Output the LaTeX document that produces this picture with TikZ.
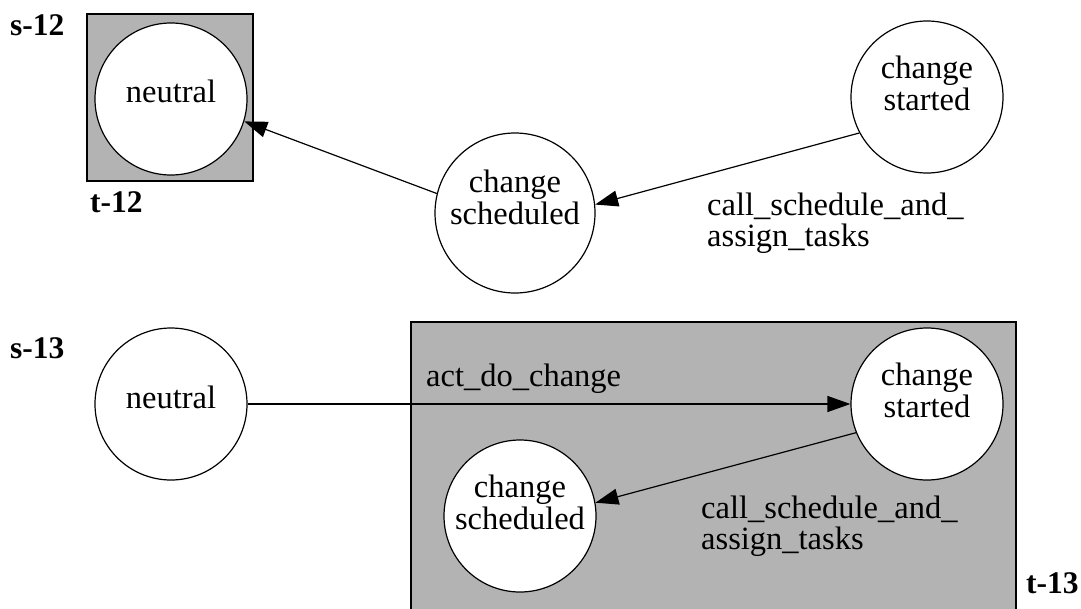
\documentclass[tikz,border=0pt]{standalone}
\usepackage{fontspec}
\setmainfont{Liberation Serif}
\usetikzlibrary{arrows.meta}
\definecolor{boxgray}{RGB}{179,179,179}
\tikzset{
  state/.style={circle, draw=black, fill=white, line width=1.2pt, inner sep=0pt},
  clusterbox/.style={draw=black, fill=boxgray, line width=1.2pt},
  txt/.style={inner sep=0pt, font=\fontsize{32.5}{30.5}\selectfont},
  tag/.style={inner sep=0pt, anchor=base west, font=\fontsize{31.5}{30}\selectfont\bfseries},
  edge/.style={line width=1.2pt, -{Triangle[length=23pt,width=16pt]}},
}
\newcommand{\twolines}[2]{\begin{tabular}[t]{@{}l@{}}#1\\#2\end{tabular}}
\newcommand{\twocenter}[2]{\begin{tabular}{@{}c@{}}#1\\#2\end{tabular}}
\begin{document}
\begin{tikzpicture}[x=1pt,y=-1pt]
\useasboundingbox (0,0) rectangle (1081,608);
% ---- s-12 ----
\draw[clusterbox] (87,14) rectangle (253,181);
\node[tag] (s12) at (10,35) {s-12};
\node[tag] (t12) at (90,212) {t-12};
\node[state, minimum size=152pt] (n12) at (171,99) {};
\node[txt, anchor=base] (n12t) at (171,102) {neutral};
\node[state, minimum size=160pt] (sc12) at (515,213) {};
\node[txt] (sc12t) at (515,202) {\twocenter{change}{scheduled}};
\node[state, minimum size=152pt] (st12) at (927,97) {};
\node[txt] (st12t) at (927,88) {\twocenter{change}{started}};
\draw[edge] (sc12.166) -- (n12.-17);
\draw[edge] (st12.208) -- (sc12.6);
\node[txt, anchor=base west] (l12) at (707,215) {\twolines{call\_schedule\_and\_}{assign\_tasks}};
% ---- s-13 ----
\draw[clusterbox] (411,322) rectangle (1016,612);
\node[tag] (s13) at (10,358) {s-13};
\node[tag] (t13) at (1026,593) {t-13};
\node[state, minimum size=152pt] (n13) at (171,404) {};
\node[txt, anchor=base] (n13t) at (171,408) {neutral};
\node[state, minimum size=152pt] (st13) at (927,404) {};
\node[txt] (st13t) at (927,395) {\twocenter{change}{started}};
\node[state, minimum size=152pt] (sc13) at (520,516) {};
\node[txt] (sc13t) at (520,507) {\twocenter{change}{scheduled}};
\draw[edge] (n13.east) -- (st13.west);
\draw[edge] (st13.202) -- (sc13.10);
\node[txt, anchor=base west] (l13a) at (426,386) {act\_do\_change};
\node[txt, anchor=base west] (l13) at (701,518) {\twolines{call\_schedule\_and\_}{assign\_tasks}};
\end{tikzpicture}
\end{document}
